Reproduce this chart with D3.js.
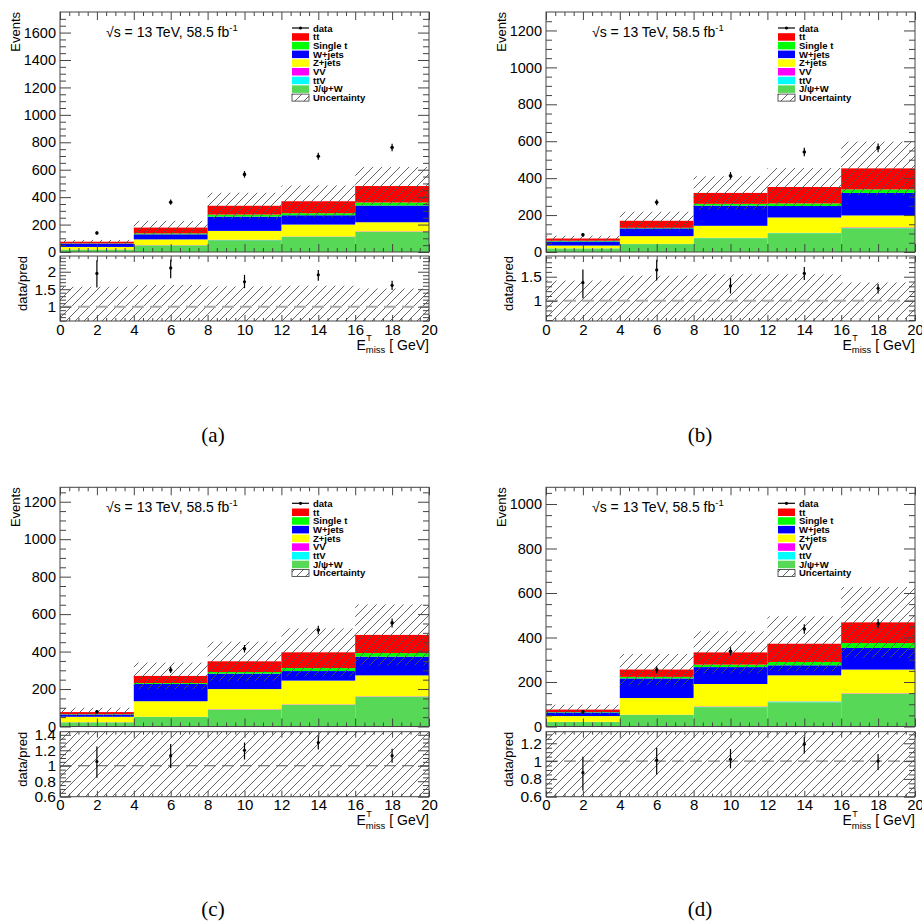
<!DOCTYPE html>
<html>
<head>
<meta charset="utf-8">
<script src="https://cdn.jsdelivr.net/npm/d3@7"></script>
<style>
body { margin: 0; background: #fff; }
text { font-family: "Liberation Sans", Arial, sans-serif; }
</style>
</head>
<body>
<svg id="fig" width="922" height="924"></svg>
<script>
// bins of E_miss^T (GeV)
const binEdges = [0, 4, 8, 12, 16, 20];
const binCentres = [2, 6, 10, 14, 18];
const xTickLabels = [0, 2, 4, 6, 8, 10, 12, 14, 16, 18, 20];
const panelNames = ["(a)", "(b)", "(c)", "(d)"];

// stacked backgrounds, one row per panel (a,b,c,d), one value per bin
const jpsiW   = [[17, 48, 86, 110, 146], [19, 43, 75, 102, 129], [22, 51, 89, 115, 158], [20, 52, 87, 109, 146]];
const ttV     = [[0.5, 0.5, 1, 1, 1], [0.5, 0.5, 1, 1, 1], [0.5, 0.5, 1, 1, 1], [0.5, 0.5, 1, 3, 1]];
const vv      = [[1, 1.5, 2, 2, 3], [0.5, 0.5, 1, 1, 3], [0.5, 0.5, 2, 2, 2], [0.5, 0.5, 2, 1, 2]];
const zJets   = [[18.5, 42, 65, 87, 67], [15, 42, 65, 83, 65], [29, 83, 108, 127, 112], [26, 75, 101, 117, 107]];
const wJets   = [[24, 37, 104, 68, 122], [22, 42, 109, 62, 122], [12, 92, 82, 51, 100], [16, 88, 76, 45, 97]];
const singleT = [[2, 7, 15, 15, 22], [4, 3, 10, 14, 19], [2, 5, 9, 16, 19], [2, 7, 11, 15, 22]];
const ttbar   = [[12, 42, 64, 87, 120], [12, 38, 59, 89, 114], [11, 38, 57, 84, 97], [11, 33, 55, 82, 93]];

// observed data and its error, total uncertainty on the prediction
const dataVals = [[139, 363, 566, 698, 762], [93, 269, 413, 542, 564], [79, 302, 415, 515, 553], [66, 255, 338, 438, 462]];
const dataErr  = [[12, 19, 24, 26, 28], [10, 16, 20, 23, 24], [9, 17, 20, 23, 24], [8, 16, 18, 21, 21]];
const uncert   = [[13, 49, 95, 115, 139], [15, 49, 90, 103, 145], [23, 71, 105, 128, 163], [22, 70, 95, 123, 159]];

// ratio panel
const ratio     = [[1.95, 2.11, 1.71, 1.91, 1.61], [1.375, 1.64, 1.31, 1.57, 1.26], [1.055, 1.13, 1.20, 1.30, 1.13], [0.87, 1.01, 1.02, 1.19, 1.00]];
const ratioLo   = [[1.55, 1.81, 1.53, 1.74, 1.48], [1.05, 1.42, 1.15, 1.43, 1.15], [0.845, 0.97, 1.08, 1.21, 1.04], [0.67, 0.85, 0.92, 1.085, 0.90]];
const ratioHi   = [[2.33, 2.35, 1.91, 2.05, 1.74], [1.65, 1.85, 1.47, 1.70, 1.35], [1.25, 1.28, 1.30, 1.39, 1.22], [1.05, 1.15, 1.135, 1.27, 1.08]];
const ratioBand = [[0.57, 0.62, 0.58, 0.60, 0.52], [0.42, 0.52, 0.55, 0.55, 0.38], [0.5, 0.5, 0.5, 0.5, 0.5], [0.5, 0.5, 0.5, 0.5, 0.5]];

// axis ranges
const yMax = [1750, 1300, 1277, 1075];
const ratioRange = [[0.59, 2.45], [0.58, 1.93], [0.6, 1.44], [0.6, 1.33]];
const ratioStep = [0.5, 0.5, 0.2, 0.2];
const ratioMinor = [0.1, 0.1, 0.05, 0.05];

const processKeys = ["jpsiW", "ttV", "vv", "zJets", "wJets", "singleT", "ttbar"];
const processSeries = [jpsiW, ttV, vv, zJets, wJets, singleT, ttbar];
const processColors = {jpsiW: "#57d957", ttV: "#00ffff", vv: "#ff00ff", zJets: "#ffff00", wJets: "#0000ff", singleT: "#00ff00", ttbar: "#ff0000"};
const legendEntries = [
  {label: "data", type: "data"},
  {label: "tt", key: "ttbar"},
  {label: "Single t", key: "singleT"},
  {label: "W+jets", key: "wJets"},
  {label: "Z+jets", key: "zJets"},
  {label: "VV", key: "vv"},
  {label: "ttV", key: "ttV"},
  {label: "J/\u03c8+W", key: "jpsiW"},
  {label: "Uncertainty", type: "unc"}
];

// panel layout (pixels)
const frames = [
  {x0: 60, x1: 429, top: 12, mid: 252, rTop: 256, rBot: 321, capX: 213, capY: 442, dash: "#aaa", dashW: 2},
  {x0: 546, x1: 915, top: 12, mid: 252, rTop: 256, rBot: 321, capX: 700, capY: 442, dash: "#aaa", dashW: 2},
  {x0: 60, x1: 429, top: 487.3, mid: 726.5, rTop: 731.7, rBot: 796.7, capX: 213, capY: 916, dash: "#555", dashW: 1},
  {x0: 546, x1: 915, top: 487.3, mid: 726.5, rTop: 731.7, rBot: 796.7, capX: 700, capY: 916, dash: "#555", dashW: 1}
];

const svg = d3.select("#fig");
const defs = svg.append("defs");
const hatch = defs.append("pattern").attr("id", "hatch")
  .attr("patternUnits", "userSpaceOnUse").attr("width", 9).attr("height", 9);
hatch.append("path").attr("d", "M0,9 L9,0 M-2,2 L2,-2 M7,11 L11,7")
  .attr("stroke", "#555").attr("stroke-width", 0.9);

const fmt = d => +d.toFixed(2);

function ticks(g, axis, size) {
  g.call(axis);
  g.select(".domain").remove();
  g.selectAll(".tick line").attr("stroke", "#444");
  g.attr("font-family", null).attr("font-size", null);
  g.selectAll("text").attr("fill", "#000");
  if (size) g.selectAll("text").attr("font-size", size);
}

frames.forEach((f, p) => {
  const g = svg.append("g");
  const x = d3.scaleLinear().domain([0, 20]).range([f.x0, f.x1]);
  const y = d3.scaleLinear().domain([0, yMax[p]]).range([f.mid, f.top]);
  const ry = d3.scaleLinear().domain(ratioRange[p]).range([f.rBot, f.rTop]);

  defs.append("clipPath").attr("id", "cu" + p).append("rect")
    .attr("x", f.x0).attr("y", f.top).attr("width", f.x1 - f.x0).attr("height", f.mid - f.top);
  defs.append("clipPath").attr("id", "cr" + p).append("rect")
    .attr("x", f.x0).attr("y", f.rTop).attr("width", f.x1 - f.x0).attr("height", f.rBot - f.rTop);

  // stack table
  const table = binCentres.map((c, i) => {
    const row = {i: i};
    processKeys.forEach((k, j) => { row[k] = processSeries[j][p][i]; });
    return row;
  });
  const stacked = d3.stack().keys(processKeys)(table);
  const totals = table.map(r => d3.sum(processKeys, k => r[k]));

  const up = g.append("g").attr("clip-path", "url(#cu" + p + ")");
  stacked.forEach(layer => {
    up.selectAll(null).data(layer).enter().append("rect")
      .attr("x", d => x(binEdges[d.data.i]))
      .attr("width", d => x(binEdges[d.data.i + 1]) - x(binEdges[d.data.i]))
      .attr("y", d => y(d[1]))
      .attr("height", d => y(d[0]) - y(d[1]))
      .attr("fill", processColors[layer.key]);
  });

  // uncertainty band
  up.selectAll(null).data(totals).enter().append("rect")
    .attr("x", (d, i) => x(binEdges[i]))
    .attr("width", (d, i) => x(binEdges[i + 1]) - x(binEdges[i]))
    .attr("y", (d, i) => y(d + uncert[p][i]))
    .attr("height", (d, i) => y(Math.max(0, d - uncert[p][i])) - y(d + uncert[p][i]))
    .attr("fill", "url(#hatch)");

  // data points
  up.selectAll(null).data(dataVals[p]).enter().append("line")
    .attr("x1", (d, i) => x(binCentres[i])).attr("x2", (d, i) => x(binCentres[i]))
    .attr("y1", (d, i) => y(d - dataErr[p][i])).attr("y2", (d, i) => y(d + dataErr[p][i]))
    .attr("stroke", "#000").attr("stroke-width", 1.2);
  up.selectAll(null).data(dataVals[p]).enter().append("circle")
    .attr("cx", (d, i) => x(binCentres[i])).attr("cy", d => y(d)).attr("r", 1.8).attr("fill", "#000");

  // ratio panel
  const rp = g.append("g").attr("clip-path", "url(#cr" + p + ")");
  rp.selectAll(null).data(ratioBand[p]).enter().append("rect")
    .attr("x", (d, i) => x(binEdges[i]))
    .attr("width", (d, i) => x(binEdges[i + 1]) - x(binEdges[i]))
    .attr("y", d => ry(Math.min(1 + d, ratioRange[p][1] + 0.2)))
    .attr("height", d => ry(Math.max(1 - d, ratioRange[p][0] - 0.2)) - ry(Math.min(1 + d, ratioRange[p][1] + 0.2)))
    .attr("fill", "url(#hatch)");
  rp.append("line").attr("x1", f.x0).attr("x2", f.x1).attr("y1", ry(1)).attr("y2", ry(1))
    .attr("stroke", f.dash).attr("stroke-width", f.dashW).attr("stroke-dasharray", "12,6");
  rp.selectAll(null).data(ratio[p]).enter().append("line")
    .attr("x1", (d, i) => x(binCentres[i])).attr("x2", (d, i) => x(binCentres[i]))
    .attr("y1", (d, i) => ry(ratioLo[p][i])).attr("y2", (d, i) => ry(ratioHi[p][i]))
    .attr("stroke", "#000").attr("stroke-width", 1.2);
  rp.selectAll(null).data(ratio[p]).enter().append("circle")
    .attr("cx", (d, i) => x(binCentres[i])).attr("cy", d => ry(d)).attr("r", 1.6).attr("fill", "#000");

  // frames
  [[f.top, f.mid], [f.rTop, f.rBot]].forEach(([t, b]) => {
    g.append("rect").attr("x", f.x0).attr("y", t).attr("width", f.x1 - f.x0).attr("height", b - t)
      .attr("fill", "none").attr("stroke", "#444").attr("stroke-width", 1);
  });

  // x ticks
  const xMinor = d3.range(0, 20.01, 0.5).filter(v => v % 2 !== 0);
  [[f.top, "top"], [f.mid, "bottom"], [f.rTop, "top"], [f.rBot, "bottom"]].forEach(([yy, side], k) => {
    const big = k < 2 ? 8 : 6, small = k < 2 ? 4 : 3;
    const mk = side === "top" ? d3.axisTop : d3.axisBottom;
    ticks(g.append("g").attr("transform", `translate(0,${yy})`),
      mk(x).tickValues(xTickLabels).tickSizeInner(-big).tickSizeOuter(0).tickFormat(k === 3 ? d3.format("d") : "").tickPadding(3), 15);
    ticks(g.append("g").attr("transform", `translate(0,${yy})`),
      mk(x).tickValues(xMinor).tickSizeInner(-small).tickSizeOuter(0).tickFormat(""));
  });

  // y ticks, main panel
  const yMajor = d3.range(0, yMax[p], 200);
  const yMin = d3.range(0, yMax[p], 50).filter(v => v % 200 !== 0);
  ticks(g.append("g").attr("transform", `translate(${f.x0},0)`),
    d3.axisLeft(y).tickValues(yMajor).tickSizeInner(-11).tickSizeOuter(0).tickPadding(4).tickFormat(d3.format("d")), 14.5);
  ticks(g.append("g").attr("transform", `translate(${f.x0},0)`),
    d3.axisLeft(y).tickValues(yMin).tickSizeInner(-6).tickSizeOuter(0).tickFormat(""));
  ticks(g.append("g").attr("transform", `translate(${f.x1},0)`),
    d3.axisRight(y).tickValues(yMajor).tickSizeInner(-11).tickSizeOuter(0).tickFormat(""));
  ticks(g.append("g").attr("transform", `translate(${f.x1},0)`),
    d3.axisRight(y).tickValues(yMin).tickSizeInner(-6).tickSizeOuter(0).tickFormat(""));

  // y ticks, ratio panel
  const [rl, rh] = ratioRange[p];
  const st = ratioStep[p], ms = ratioMinor[p];
  const rMajor = d3.range(Math.ceil(rl / st - 1e-6) * st, rh + 1e-6, st).map(fmt);
  const rMinorT = d3.range(Math.ceil(rl / ms - 1e-6) * ms, rh + 1e-6, ms).map(fmt)
    .filter(v => !rMajor.some(m => Math.abs(m - v) < 1e-6));
  ticks(g.append("g").attr("transform", `translate(${f.x0},0)`),
    d3.axisLeft(ry).tickValues(rMajor).tickSizeInner(-11).tickSizeOuter(0).tickPadding(4).tickFormat(fmt), 15.5);
  ticks(g.append("g").attr("transform", `translate(${f.x0},0)`),
    d3.axisLeft(ry).tickValues(rMinorT).tickSizeInner(-6).tickSizeOuter(0).tickFormat(""));
  ticks(g.append("g").attr("transform", `translate(${f.x1},0)`),
    d3.axisRight(ry).tickValues(rMajor).tickSizeInner(-11).tickSizeOuter(0).tickFormat(""));
  ticks(g.append("g").attr("transform", `translate(${f.x1},0)`),
    d3.axisRight(ry).tickValues(rMinorT).tickSizeInner(-6).tickSizeOuter(0).tickFormat(""));

  // axis titles
  g.append("text").attr("transform", `translate(${f.x0 - 40.5},${f.top}) rotate(-90)`)
    .attr("text-anchor", "end").attr("font-size", 13).text("Events");
  g.append("text").attr("transform", `translate(${f.x0 - 33},${f.rTop}) rotate(-90)`)
    .attr("text-anchor", "end").attr("font-size", 13).text("data/pred");

  const xb = f.rBot + 28.5;
  const unit = g.append("text").attr("x", f.x1).attr("y", xb).attr("text-anchor", "end")
    .attr("font-size", 14).text("[ GeV]");
  const ux = f.x1 - unit.node().getComputedTextLength() - 4;
  const sub = g.append("text").attr("x", ux).attr("y", xb + 3.5).attr("text-anchor", "end")
    .attr("font-size", 9.5).text("miss");
  const sx = ux - sub.node().getComputedTextLength();
  g.append("text").attr("x", sx + 0.5).attr("y", xb - 8.5).attr("font-size", 9).text("T");
  g.append("text").attr("x", sx).attr("y", xb).attr("text-anchor", "end").attr("font-size", 14).text("E");

  // energy / luminosity label
  const lum = g.append("text").attr("x", f.x0 + 46).attr("y", f.top + 24.5).attr("font-size", 14)
    .text("\u221as = 13 TeV, 58.5 fb");
  lum.append("tspan").attr("font-size", 9.5).attr("dy", -6).text("-1");

  // legend
  const lx = f.x0 + 232, ly = f.top + 16, step = 8.7;
  legendEntries.forEach((e, i) => {
    const cy = ly + i * step;
    if (e.type === "data") {
      g.append("line").attr("x1", lx).attr("x2", lx + 17).attr("y1", cy).attr("y2", cy)
        .attr("stroke", "#000").attr("stroke-width", 1.2);
      g.append("circle").attr("cx", lx + 8.5).attr("cy", cy).attr("r", 1.6).attr("fill", "#000");
    } else if (e.type === "unc") {
      g.append("rect").attr("x", lx).attr("y", cy - 3.5).attr("width", 17).attr("height", 7)
        .attr("fill", "url(#hatch)").attr("stroke", "#333").attr("stroke-width", 0.8);
    } else {
      g.append("rect").attr("x", lx).attr("y", cy - 3.5).attr("width", 17).attr("height", 7.5)
        .attr("fill", processColors[e.key]);
    }
    g.append("text").attr("x", lx + 21).attr("y", cy).attr("dominant-baseline", "central")
      .attr("font-size", 9.5).attr("font-weight", "bold").text(e.label);
  });

  // caption
  g.append("text").attr("x", f.capX).attr("y", f.capY).attr("text-anchor", "middle")
    .attr("font-size", 21).style("font-family", "'Liberation Serif', 'DejaVu Serif', serif").text(panelNames[p]);
});
</script>
</body>
</html>
